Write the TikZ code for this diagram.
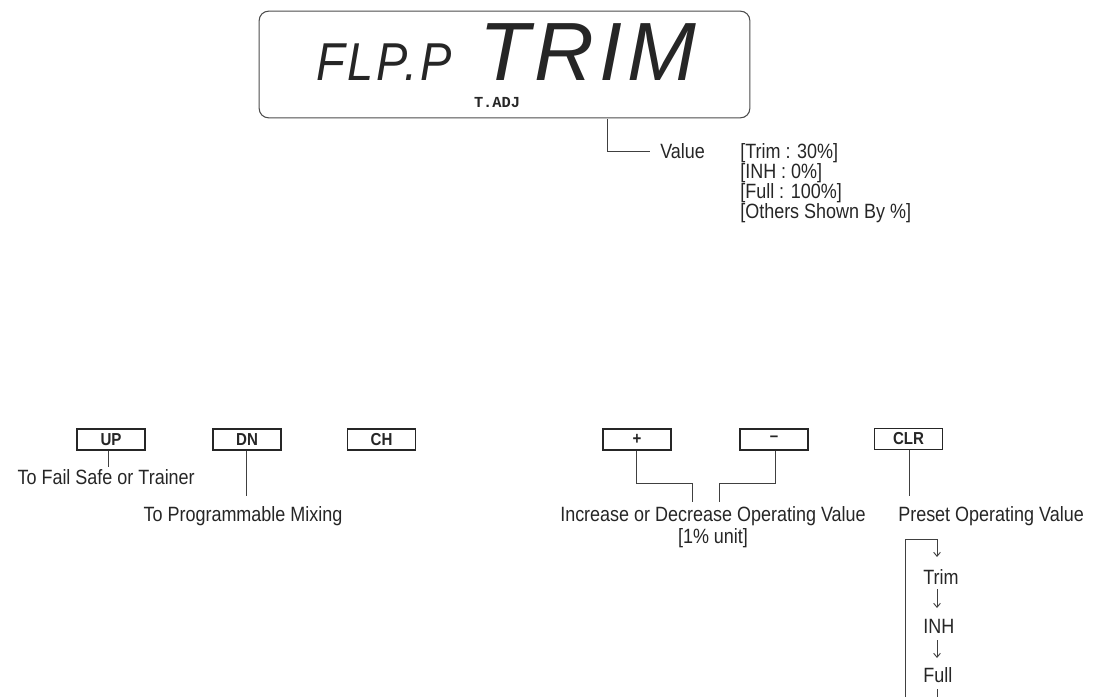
\documentclass[tikz,border=0pt]{standalone}
\usepackage{fontspec}
\setmainfont{Liberation Sans}
\newfontfamily\lblfont[FakeStretch=0.87]{Liberation Sans}
\newfontfamily\lcdfont[LetterSpace=6]{Liberation Sans}
\newfontfamily\monofont{Liberation Mono}
\usetikzlibrary{arrows.meta}
\tikzset{
  keybox/.style={draw=black!85, line width=1.1pt, minimum width=51pt, minimum height=15.5pt, inner sep=0pt, font=\lblfont\fontsize{13}{13}\selectfont\bfseries, text=black!85},
  lbl/.style={inner sep=0pt, font=\lblfont\fontsize{15.5}{15}\selectfont, text=black!85},
  conn/.style={draw=black!75, line width=0.7pt},
  arr/.style={conn, -{Straight Barb[length=3pt,width=5pt]}},
}
\begin{document}
\begin{tikzpicture}[x=0.75pt,y=-0.75pt]
\useasboundingbox (0,0) rectangle (1098,697);
% LCD display
\node[draw=black!70, line width=0.8pt, rounded corners=7pt, minimum width=368pt, minimum height=80pt, inner sep=0pt] (lcd) at (504.5,64.5) {};
\node[inner sep=0pt, anchor=base, text depth=0pt, font=\lcdfont\fontsize{40}{40}\selectfont\itshape, text=black!85] (flpp) at (384,80) {\scalebox{0.88}[1]{FLP.P}};
\node[inner sep=0pt, anchor=base, text depth=0pt, font=\lcdfont\fontsize{62}{62}\selectfont\itshape, text=black!85] (trim) at (588,80) {TRIM};
\node[inner sep=0pt, font=\monofont\fontsize{11.5}{11.5}\selectfont\bfseries, text=black!85] (tadj) at (497,103) {T.ADJ};
% Value
\node[lbl, anchor=west] (value) at (660,151) {Value};
\coordinate (vtop) at (607,119);
\draw[conn] (vtop) |- (value.west -| 650,0);
\node[lbl, anchor=north west, align=left] (vlist) at (740,143) {{[}Trim : 30\%{]}\\{[}INH : 0\%{]}\\{[}Full : 100\%{]}\\{[}Others Shown By \%{]}};
% keys
\node[keybox] (up) at (111,439.5) {UP};
\node[keybox] (dn) at (247,439.5) {DN};
\node[keybox] (ch) at (381.5,439.5) {CH};
\node[keybox] (plus) at (637,439.5) {+};
\node[keybox] (minus) at (774,439.5) {\raisebox{0.15ex}{–}};
\node[keybox] (clr) at (908.5,439) {CLR};
% labels
\node[lbl, anchor=east] (fs) at (195,477) {To Fail Safe or Trainer};
\node[lbl] (pm) at (243,516) {To Programmable Mixing};
\node[lbl] (inc) at (713,516) {Increase or Decrease Operating Value};
\node[lbl] (unit) at (713,538) {{[}1\% unit{]}};
\node[lbl, anchor=west] (preset) at (898,516) {Preset Operating Value};
\node[lbl, anchor=west] (ltrim) at (923,577) {Trim};
\node[lbl, anchor=west] (linh) at (923,626) {INH};
\node[lbl, anchor=west] (lfull) at (923,675) {Full};
% connectors
\draw[conn] (up.south -| 108,0) -- (108,467);
\draw[conn] (dn.south -| 246,0) -- (246,496);
\draw[conn] (plus.south -| 636,0) -- (636,483) -| (692,502);
\draw[conn] (minus.south -| 775,0) -- (775,483) -| (719,502);
\draw[conn] (clr.south -| 909,0) -- (909,496);
% loop
\coordinate (lb) at (905,697);
\coordinate (fb) at (937,697);
\draw[arr] (lb) -- (905,539) -- (937,539) -- (937,557);
\draw[arr] (937,589) -- (937,608);
\draw[arr] (937,640) -- (937,658);
\draw[conn] (937,689) -- (fb);
\end{tikzpicture}
\end{document}
